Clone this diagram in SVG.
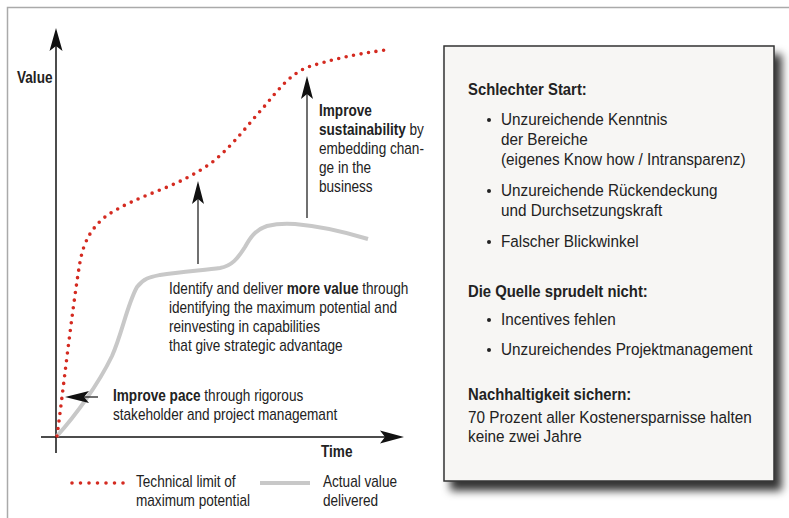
<svg xmlns="http://www.w3.org/2000/svg" width="789" height="518" viewBox="0 0 789 518">
<defs>
<style>
text{font-family:"Liberation Sans",Arial,sans-serif;font-size:16px;fill:#222}
.box text{font-size:16.5px}
.b{font-weight:bold}
.h{font-weight:bold}
.ax{stroke:#111;stroke-width:1.5;fill:none}
.ln{stroke:#111;stroke-width:1.2;fill:none}
.red{stroke:#d42a20;stroke-width:3.6;stroke-linecap:round;stroke-dasharray:0 7.6;fill:none}
.gray{stroke:#c8c8c8;stroke-width:4;fill:none;stroke-linecap:butt}
.head{fill:#111}
</style>
<filter id="sh" x="-10%" y="-10%" width="130%" height="130%">
<feDropShadow dx="7" dy="9" stdDeviation="4.5" flood-color="#000" flood-opacity="0.8"/>
</filter>
</defs>
<rect x="0" y="0" width="789" height="518" fill="#fff"/>
<rect x="7.5" y="7.5" width="800" height="530" fill="none" stroke="#aaa" stroke-width="1.5"/>

<g id="axes">
<line class="ax" x1="56" y1="40" x2="56" y2="453"/>
<path class="head" d="M56,28 L62.5,51 L56,46 L49.5,51 Z"/>
<line class="ax" x1="41" y1="437" x2="392" y2="437"/>
<path class="head" d="M404,437 L380,443.5 L385,437 L380,430.5 Z"/>
<text id="value-label" class="b" transform="translate(17,83) scale(0.85,1)">Value</text>
<text id="time-label" class="b" transform="translate(321,457) scale(0.85,1)">Time</text>
</g>

<g id="curves">
<path id="actual" class="gray" d="M57,436 C75,416 98,385 112,356 C122,334 127,305 137,287 C144,278 150,277 160,275 C180,272 205,270 220,268 C232,266 238,258 245,247 C250,238 255,230 267,226 C275,224 283,223 295,224 C320,226 345,232 368,239"/>
<path id="limit" class="red" d="M57,436 C62,400 72,310 80,262 C84,240 92,228 105,217 C120,206 140,198 160,190 C180,182 200,172 215,160 C235,143 250,122 263,108 C278,90 290,74 308,67 C330,60 355,54 386,50"/>
</g>

<g id="connectors">
<line class="ln" x1="198" y1="264" x2="198" y2="195"/>
<path class="head" d="M198,181 L204,204 L198,199 L192,204 Z"/>
<line class="ln" x1="307" y1="218" x2="307" y2="90"/>
<path class="head" d="M307,76 L313,99 L307,94 L301,99 Z"/>
<line class="ln" x1="98" y1="397" x2="78" y2="397"/>
<path class="head" d="M65,397 L89,391 L84,397 L89,403 Z"/>
</g>

<g id="label-sustain">
<text transform="translate(319,116) scale(0.85,1)"><tspan class="b">Improve</tspan></text>
<text transform="translate(319,135) scale(0.85,1)"><tspan class="b">sustainability</tspan> by</text>
<text transform="translate(319,154) scale(0.85,1)">embedding chan-</text>
<text transform="translate(319,173) scale(0.85,1)">ge in the</text>
<text transform="translate(319,192) scale(0.85,1)">business</text>
</g>

<g id="label-value">
<text transform="translate(169,294) scale(0.85,1)">Identify and deliver <tspan class="b">more value</tspan> through</text>
<text transform="translate(169,313) scale(0.85,1)">identifying the maximum potential and</text>
<text transform="translate(169,332) scale(0.85,1)">reinvesting in capabilities</text>
<text transform="translate(169,351) scale(0.85,1)">that give strategic advantage</text>
</g>

<g id="label-pace">
<text transform="translate(113,401) scale(0.85,1)"><tspan class="b">Improve pace</tspan> through rigorous</text>
<text transform="translate(113,420) scale(0.85,1)">stakeholder and project managemant</text>
</g>

<g id="legend">
<line class="red" x1="72" y1="483" x2="124" y2="483" style="stroke-dasharray:0 8.5"/>
<text transform="translate(136,487) scale(0.85,1)">Technical limit of</text>
<text transform="translate(136,506) scale(0.85,1)">maximum potential</text>
<line class="gray" x1="260" y1="483" x2="310" y2="483"/>
<text transform="translate(323,487) scale(0.85,1)">Actual value</text>
<text transform="translate(323,506) scale(0.85,1)">delivered</text>
</g>

<g id="info-box" class="box">
<rect x="444" y="46" width="330" height="435" fill="#f7f6f4" stroke="#333" stroke-width="1.5" filter="url(#sh)"/>
<text class="h" transform="translate(468,95) scale(0.9,1)">Schlechter Start:</text>
<circle cx="489" cy="120" r="2" fill="#222"/>
<text transform="translate(501,125) scale(0.927,1)">Unzureichende Kenntnis</text>
<text transform="translate(501,145) scale(0.927,1)">der Bereiche</text>
<text transform="translate(501,165) scale(0.927,1)">(eigenes Know how / Intransparenz)</text>
<circle cx="489" cy="191" r="2" fill="#222"/>
<text transform="translate(501,196) scale(0.927,1)">Unzureichende Rückendeckung</text>
<text transform="translate(501,216) scale(0.927,1)">und Durchsetzungskraft</text>
<circle cx="489" cy="242" r="2" fill="#222"/>
<text transform="translate(501,247) scale(0.927,1)">Falscher Blickwinkel</text>
<text class="h" transform="translate(468,297) scale(0.9,1)">Die Quelle sprudelt nicht:</text>
<circle cx="489" cy="320" r="2" fill="#222"/>
<text transform="translate(501,325) scale(0.927,1)">Incentives fehlen</text>
<circle cx="489" cy="350" r="2" fill="#222"/>
<text transform="translate(501,355) scale(0.927,1)">Unzureichendes Projektmanagement</text>
<text class="h" transform="translate(468,400) scale(0.9,1)">Nachhaltigkeit sichern:</text>
<text transform="translate(468,423) scale(0.927,1)">70 Prozent aller Kostenersparnisse halten</text>
<text transform="translate(468,442) scale(0.927,1)">keine zwei Jahre</text>
</g>
</svg>
